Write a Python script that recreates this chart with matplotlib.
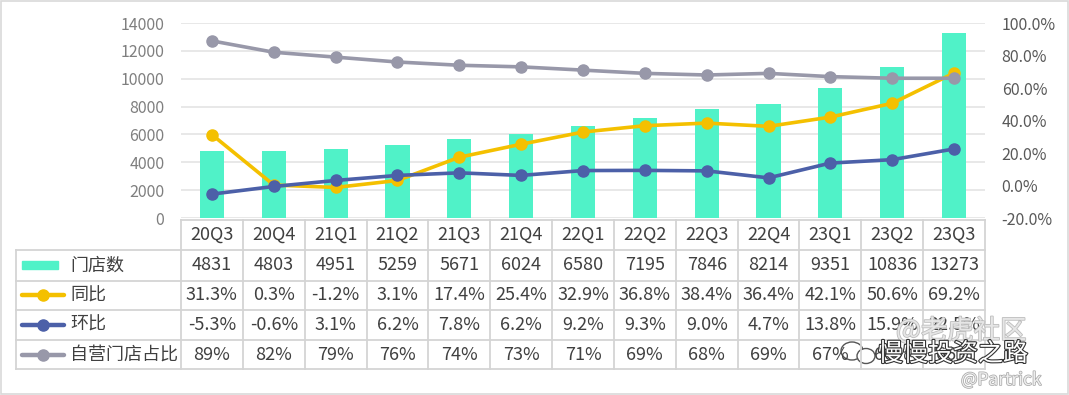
import matplotlib
matplotlib.use("Agg")
import matplotlib.pyplot as plt
import matplotlib.patheffects as pe
from matplotlib.patches import Rectangle, Ellipse
from matplotlib.lines import Line2D

plt.rcParams['font.family'] = ['Noto Sans CJK SC', 'DejaVu Sans']

quarters = ["20Q3", "20Q4", "21Q1", "21Q2", "21Q3", "21Q4", "22Q1",
            "22Q2", "22Q3", "22Q4", "23Q1", "23Q2", "23Q3"]
stores = [4831, 4803, 4951, 5259, 5671, 6024, 6580, 7195, 7846, 8214, 9351, 10836, 13273]
yoy = [31.3, 0.3, -1.2, 3.1, 17.4, 25.4, 32.9, 36.8, 38.4, 36.4, 42.1, 50.6, 69.2]
qoq = [-5.3, -0.6, 3.1, 6.2, 7.8, 6.2, 9.2, 9.3, 9.0, 4.7, 13.8, 15.9, 22.5]
self_share = [89, 82, 79, 76, 74, 73, 71, 69, 68, 69, 67, 66, 66]
series_names = ["门店数", "同比", "环比", "自营门店占比"]

C_BAR = "#50F2C8"
C_YOY = "#F4C000"
C_QOQ = "#4C60A8"
C_SELF = "#9898A9"
C_TICK = "#7F7F7F"
C_TXT = "#404040"
C_GRID = "#E4E4E4"
C_BORDER = "#D4D4D4"

W, H = 1069, 395
fig = plt.figure(figsize=(W / 100, H / 100), dpi=100)
fig.patch.set_facecolor("white")

# pixel geometry
x0, x1 = 181, 985
ytop, ybot = 23, 218

ax = fig.add_axes([x0 / W, 1 - ybot / H, (x1 - x0) / W, (ybot - ytop) / H])
n = len(quarters)
xs = list(range(n))
ax.bar(xs, stores, width=0.39, color=C_BAR, zorder=2)
ax.set_xlim(-0.5, n - 0.5)
ax.set_ylim(0, 14000)
ax.set_yticks(range(0, 14001, 2000))
ax.yaxis.grid(True, color=C_GRID, linewidth=1.2, zorder=0)
ax.set_axisbelow(True)
ax.set_xticks([])
for s in ax.spines.values():
    s.set_visible(False)
ax.tick_params(axis="y", length=0, labelsize=11.5, labelcolor=C_TICK, pad=12)

ax2 = ax.twinx()
ax2.set_ylim(-20, 100)
ax2.set_yticks(range(-20, 101, 20))
ax2.set_yticklabels([f"{v:.1f}%" for v in range(-20, 101, 20)])
for s in ax2.spines.values():
    s.set_visible(False)
ax2.tick_params(axis="y", length=0, labelsize=11.5, labelcolor="#595959", pad=12)
lkw = dict(linewidth=2.6, marker="o", markersize=8, zorder=3)
ax2.plot(xs, yoy, color=C_YOY, **lkw)
ax2.plot(xs, qoq, color=C_QOQ, **lkw)
ax2.plot(xs, self_share, color=C_SELF, **lkw)

# overlay axes in pixel coordinates for the data table, border and watermark
ov = fig.add_axes([0, 0, 1, 1])
ov.set_xlim(0, W)
ov.set_ylim(H, 0)
ov.axis("off")
ov.patch.set_alpha(0)

colw = (x1 - x0) / n
rows_y = [220, 250, 280.5, 310, 340, 369]
tl = 16
lw = 1.3
# horizontal lines
ov.plot([x0, x1], [rows_y[0]] * 2, color=C_BORDER, lw=lw)
for yy in rows_y[1:]:
    ov.plot([tl, x1], [yy, yy], color=C_BORDER, lw=lw)
# vertical lines
for i in range(n + 1):
    xx = x0 + i * colw
    ov.plot([xx, xx], [rows_y[0], rows_y[-1]], color=C_BORDER, lw=lw)
ov.plot([tl, tl], [rows_y[1], rows_y[-1]], color=C_BORDER, lw=lw)

fs = 13
for i, q in enumerate(quarters):
    cx = x0 + (i + 0.5) * colw
    ov.text(cx, (rows_y[0] + rows_y[1]) / 2, q, ha="center", va="center", fontsize=fs, color=C_TXT)
row_vals = [
    [f"{v}" for v in stores],
    [f"{v:.1f}%" for v in yoy],
    [f"{v:.1f}%" for v in qoq],
    [f"{v}%" for v in self_share],
]
for r, vals in enumerate(row_vals):
    cy = (rows_y[r + 1] + rows_y[r + 2]) / 2
    for i, v in enumerate(vals):
        cx = x0 + (i + 0.5) * colw
        ov.text(cx, cy, v, ha="center", va="center", fontsize=fs, color=C_TXT)
    ov.text(70, cy, series_names[r], ha="left", va="center", fontsize=fs, color=C_TXT)

# legend keys
cy0 = (rows_y[1] + rows_y[2]) / 2
ov.add_patch(Rectangle((22, cy0 - 4), 36, 8, color=C_BAR))
for r, c in zip([1, 2, 3], [C_YOY, C_QOQ, C_SELF]):
    cy = (rows_y[r + 1] + rows_y[r + 2]) / 2
    ov.add_line(Line2D([22, 64], [cy, cy], color=c, lw=3.2, solid_capstyle="round"))
    ov.plot([43], [cy], marker="o", markersize=8, color=c)

# outer border
ov.add_patch(Rectangle((0.5, 0.5), W - 1.5, H - 1.5, fill=False, edgecolor="#D9D9D9", lw=1.2))

# watermark
ov.text(896, 331, "@老虎社区", ha="left", va="center", fontsize=19, color="#E6E6E6",
        path_effects=[pe.withStroke(linewidth=1.2, foreground="#BDBDBD")])
ov.add_patch(Ellipse((852, 351), 22, 18, fill=False, edgecolor="#555555", lw=1))
ov.add_patch(Ellipse((866, 356), 18, 15, facecolor="white", edgecolor="#555555", lw=1))
ov.text(878, 354, "慢慢投资之路", ha="left", va="center", fontsize=18, color="white",
        path_effects=[pe.withStroke(linewidth=1.6, foreground="#333333")])
ov.text(961, 380, "@Partrick", ha="left", va="center", fontsize=12.5, color="#EEEEEE",
        path_effects=[pe.withStroke(linewidth=1.1, foreground="#AAAAAA")])

fig.savefig("out.png", dpi=100)
